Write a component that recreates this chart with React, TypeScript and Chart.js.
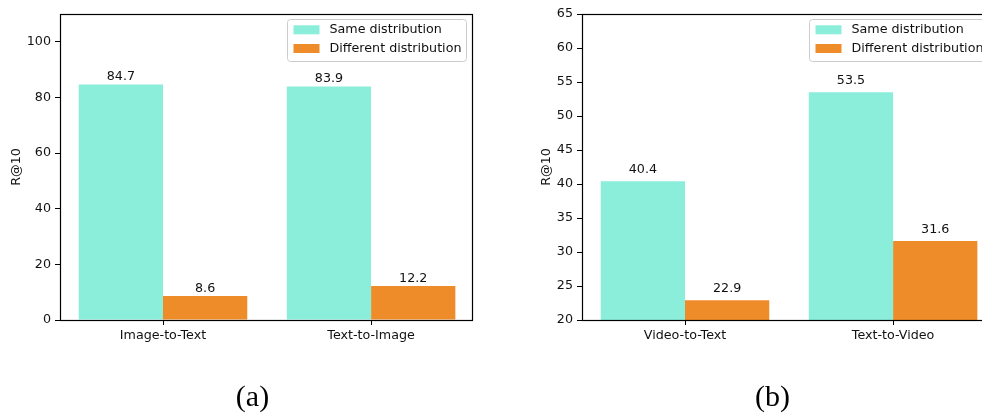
import React, { useEffect, useRef } from 'react';
import { Chart, registerables } from 'chart.js';

Chart.register(...registerables);

// ---- data ----
const catsA = ['Image-to-Text', 'Text-to-Image'];
const sameA = [84.7, 83.9];
const diffA = [8.6, 12.2];
const yTicksA = [0, 20, 40, 60, 80, 100];

const catsB = ['Video-to-Text', 'Text-to-Video'];
const sameB = [40.4, 53.5];
const diffB = [22.9, 31.6];
const yTicksB = [20, 25, 30, 35, 40, 45, 50, 55, 60, 65];

const seriesNames = ['Same distribution', 'Different distribution'];
const yTitle = 'R@10';

const TEAL = '#8aeedb';
const ORANGE = '#ef8c2a';
const FONT = "'DejaVu Sans', sans-serif";
const FS = 12.7;

const decor = {
  id: 'decor',
  afterDraw(chart: any, _args: any, opts: any) {
    const { ctx, chartArea: a } = chart;
    ctx.save();
    // spines
    ctx.strokeStyle = '#000';
    ctx.lineWidth = 1.2;
    ctx.strokeRect(Math.round(a.left) + 0.5, Math.round(a.top) + 0.5, Math.round(a.right - a.left), Math.round(a.bottom - a.top));
    // value labels
    ctx.font = `${FS}px ${FONT}`;
    ctx.fillStyle = '#111';
    ctx.textAlign = 'center';
    ctx.textBaseline = 'alphabetic';
    chart.data.datasets.forEach((ds: any, di: number) => {
      const meta = chart.getDatasetMeta(di);
      meta.data.forEach((el: any, i: number) => {
        const v = ds.data[i].y;
        ctx.fillText(v.toFixed(1), el.x, el.y - opts.labelGap);
      });
    });
    // y title
    const ys = chart.scales.y;
    let maxW = 0;
    ys.ticks.forEach((t: any) => {
      maxW = Math.max(maxW, ctx.measureText(String(t.value)).width);
    });
    ctx.save();
    ctx.translate(a.left - 5 - 4 - maxW - 10, (a.top + a.bottom) / 2);
    ctx.rotate(-Math.PI / 2);
    ctx.textBaseline = 'middle';
    ctx.fillText(yTitle, 0, 0);
    ctx.restore();
    // legend
    const w = 179, h = 42, r = 3;
    const x0 = a.right - 6 - w + 0.5;
    const y0 = a.top + 5.5;
    ctx.beginPath();
    ctx.moveTo(x0 + r, y0);
    ctx.arcTo(x0 + w, y0, x0 + w, y0 + h, r);
    ctx.arcTo(x0 + w, y0 + h, x0, y0 + h, r);
    ctx.arcTo(x0, y0 + h, x0, y0, r);
    ctx.arcTo(x0, y0, x0 + w, y0, r);
    ctx.closePath();
    ctx.fillStyle = 'rgba(255,255,255,0.8)';
    ctx.fill();
    ctx.strokeStyle = '#cccccc';
    ctx.lineWidth = 1;
    ctx.stroke();
    const rows = [10.3, 29];
    ctx.font = `${FS}px ${FONT}`;
    ctx.textAlign = 'left';
    ctx.textBaseline = 'middle';
    chart.data.datasets.forEach((ds: any, di: number) => {
      const cy = y0 + rows[di];
      ctx.fillStyle = ds.backgroundColor;
      ctx.fillRect(x0 + 6, cy - 4.5, 26, 9);
      ctx.fillStyle = '#111';
      ctx.fillText(ds.label, x0 + 42, cy);
    });
    ctx.restore();
  },
};

function makeConfig(cats: string[], same: number[], diff: number[], yMin: number, yMax: number, yTicks: number[], yWidth: number, labelGap: number) {
  return {
    type: 'bar',
    data: {
      datasets: [
        { label: seriesNames[0], data: cats.map((_, i) => ({ x: i, y: same[i] })), backgroundColor: TEAL, borderWidth: 0 },
        { label: seriesNames[1], data: cats.map((_, i) => ({ x: i, y: diff[i] })), backgroundColor: ORANGE, borderWidth: 0 },
      ],
    },
    options: {
      responsive: false,
      animation: false,
      events: [],
      layout: { padding: { left: 0, right: 18, top: 14, bottom: 0 } },
      datasets: { bar: { categoryPercentage: 0.81, barPercentage: 1, grouped: true } },
      plugins: { legend: { display: false }, tooltip: { enabled: false }, decor: { labelGap } },
      scales: {
        x: {
          type: 'linear',
          min: -0.495,
          max: 1.485,
          offset: false,
          afterBuildTicks: (s: any) => { s.ticks = cats.map((_, i) => ({ value: i })); },
          afterFit: (s: any) => { s.height = 93; },
          grid: { display: true, drawOnChartArea: false, drawTicks: true, tickLength: 5, color: '#000', lineWidth: 1, offset: false },
          border: { display: false },
          ticks: { font: { family: FONT, size: FS }, color: '#111', padding: 3, maxRotation: 0, autoSkip: false, callback: (v: any) => cats[v] ?? '' },
        },
        y: {
          type: 'linear',
          min: yMin,
          max: yMax,
          afterBuildTicks: (s: any) => { s.ticks = yTicks.map((v) => ({ value: v })); },
          afterFit: (s: any) => { s.width = yWidth; },
          grid: { display: true, drawOnChartArea: false, drawTicks: true, tickLength: 5, color: '#000', lineWidth: 1 },
          border: { display: false },
          ticks: { font: { family: FONT, size: FS }, color: '#111', padding: 4, callback: (v: any) => String(v) },
        },
      },
    },
    plugins: [decor],
  } as any;
}

function Panel(props: { left: number; width: number; config: any }) {
  const ref = useRef<HTMLCanvasElement>(null);
  useEffect(() => {
    const c = new Chart(ref.current!, props.config);
    return () => c.destroy();
  }, []);
  return (
    <canvas
      ref={ref}
      width={props.width}
      height={413}
      style={{ position: 'absolute', left: props.left, top: 0, width: props.width, height: 413 }}
    />
  );
}

const capStyle: React.CSSProperties = {
  position: 'absolute',
  top: 396,
  transform: 'translate(-50%, -50%)',
  fontFamily: "'Liberation Serif', serif",
  fontSize: 30,
  lineHeight: 1,
  color: '#000',
  whiteSpace: 'nowrap',
};

export default function App() {
  const cfgA = makeConfig(catsA, sameA, diffA, 0, 110, yTicksA, 60, 4.5);
  const cfgB = makeConfig(catsB, sameB, diffB, 20, 65, yTicksB, 82, 8);
  return (
    <div style={{ position: 'absolute', left: 0, top: 0, width: 982, height: 413, overflow: 'hidden', background: '#fff' }}>
      <Panel left={0} width={490} config={cfgA} />
      <Panel left={500} width={512} config={cfgB} />
      <div style={{ ...capStyle, left: 252.5 }}>(a)</div>
      <div style={{ ...capStyle, left: 772.5 }}>(b)</div>
    </div>
  );
}
